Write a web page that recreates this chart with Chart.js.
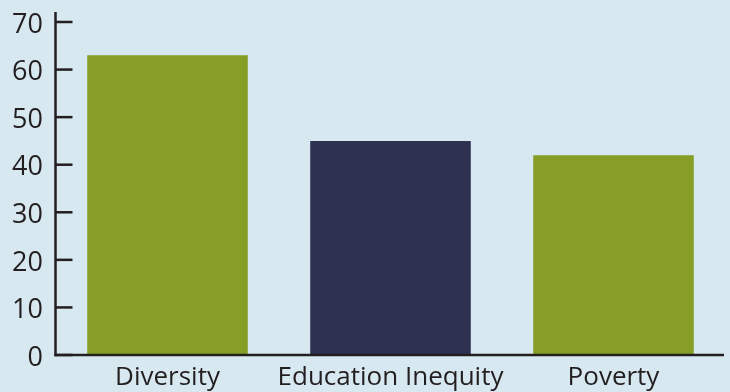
<!DOCTYPE html>
<html>
<head>
<meta charset="utf-8">
<script src="https://cdn.jsdelivr.net/npm/chart.js@4.4.1/dist/chart.umd.min.js"></script>
<style>
  html, body { margin: 0; padding: 0; background: #d8e8f1; }
  #wrap { width: 730px; height: 392px; position: relative; }
</style>
</head>
<body>
<div id="wrap"><canvas id="c" width="730" height="392"></canvas></div>
<script>
const categories = ['Diversity', 'Education Inequity', 'Poverty'];
const values = [63, 45, 42];
const barColors = ['#869e25', '#2e3250', '#869e25'];
const yTicks = [0, 10, 20, 30, 40, 50, 60, 70];

const axisColor = '#231f20';

const axesPlugin = {
  id: 'axesPlugin',
  beforeDraw(chart) {
    const ctx = chart.ctx;
    ctx.save();
    ctx.fillStyle = '#d8e8f1';
    ctx.fillRect(0, 0, chart.width, chart.height);
    ctx.restore();
  },
  afterDatasetsDraw(chart) {
    const ctx = chart.ctx;
    const area = chart.chartArea;
    const y = chart.scales.y;
    ctx.save();
    ctx.strokeStyle = axisColor;
    ctx.lineWidth = 2.5;
    ctx.lineCap = 'butt';
    // y axis line
    ctx.beginPath();
    ctx.moveTo(area.left - 0.5, area.top - 10);
    ctx.lineTo(area.left - 0.5, area.bottom + 1.2);
    ctx.stroke();
    // x axis line
    ctx.beginPath();
    ctx.moveTo(area.left - 1.7, area.bottom);
    ctx.lineTo(area.right - 1, area.bottom);
    ctx.stroke();
    // inward tick marks
    yTicks.forEach(v => {
      const py = y.getPixelForValue(v);
      ctx.beginPath();
      ctx.moveTo(area.left, py);
      ctx.lineTo(area.left + 16.5, py);
      ctx.stroke();
    });
    ctx.restore();
  }
};

new Chart(document.getElementById('c'), {
  type: 'bar',
  data: {
    labels: categories,
    datasets: [{
      data: values,
      backgroundColor: barColors,
      borderWidth: 0,
      barPercentage: 0.9,
      categoryPercentage: 0.8
    }]
  },
  options: {
    responsive: false,
    animation: false,
    devicePixelRatio: 1,
    layout: { padding: { left: 0, right: 5, top: 22, bottom: 0 } },
    plugins: { legend: { display: false }, tooltip: { enabled: false } },
    scales: {
      x: {
        grid: { display: false, drawTicks: false },
        border: { display: false },
        ticks: {
          color: axisColor,
          font: { family: 'Open Sans', size: 26 },
          padding: 7,
          maxRotation: 0,
          autoSkip: false
        },
        afterFit(scale) {
          scale.height = 37;
          scale.paddingLeft = 0; scale.paddingRight = 0;
          scale.paddingTop = 0; scale.paddingBottom = 0;
        }
      },
      y: {
        min: 0,
        max: 70,
        grid: { display: false, drawTicks: false },
        border: { display: false },
        afterBuildTicks(scale) { scale.ticks = yTicks.map(v => ({ value: v })); },
        ticks: {
          color: axisColor,
          font: { family: 'Open Sans', size: 27 },
          padding: 13,
          labelOffset: 3
        },
        afterFit(scale) {
          scale.width = 56;
          scale.paddingLeft = 0; scale.paddingRight = 0;
          scale.paddingTop = 0; scale.paddingBottom = 0;
        }
      }
    }
  },
  plugins: [axesPlugin]
});
</script>
</body>
</html>
